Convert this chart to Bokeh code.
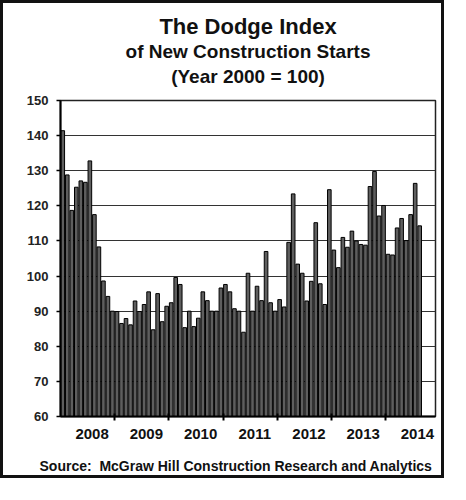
from bokeh.plotting import figure
from bokeh.models import Range1d, FixedTicker, Title, ColumnDataSource
from bokeh.embed import file_html
from bokeh.resources import INLINE

years = ["2008", "2009", "2010", "2011", "2012", "2013", "2014"]
idx_2008 = [141.4, 128.8, 118.7, 125.3, 127.1, 126.7, 132.8, 117.5, 108.3, 98.6, 94.2, 90.0]
idx_2009 = [89.9, 86.5, 87.9, 86.1, 92.9, 89.9, 91.9, 95.5, 84.7, 95.0, 87.0, 91.4]
idx_2010 = [92.4, 99.6, 97.6, 85.3, 90.0, 85.6, 88.0, 95.5, 93.0, 90.0, 90.0, 96.6]
idx_2011 = [97.6, 95.5, 90.7, 90.0, 84.0, 100.8, 90.0, 97.1, 93.0, 107.0, 92.4, 90.0]
idx_2012 = [93.3, 91.2, 109.6, 123.4, 103.4, 100.8, 92.9, 98.5, 115.2, 97.8, 91.9, 124.6]
idx_2013 = [107.4, 102.4, 111.0, 108.2, 112.8, 110.0, 109.0, 108.8, 125.5, 129.8, 117.1, 120.1]
idx_2014 = [106.2, 106.0, 113.7, 116.4, 110.1, 117.5, 126.4, 114.3]
y_ticks = [60, 70, 80, 90, 100, 110, 120, 130, 140, 150]

values = idx_2008 + idx_2009 + idx_2010 + idx_2011 + idx_2012 + idx_2013 + idx_2014
months = [i + 0.5 for i in range(len(values))]
src = ColumnDataSource(dict(x=months, top=values))

W, H = 444, 478
p = figure(width=W, height=H, output_backend="svg", toolbar_location=None,
           x_range=Range1d(0, 83), y_range=Range1d(60, 150),
           min_border_left=57, min_border_right=12, min_border_top=97, min_border_bottom=65)
p.styles = {"border": "3px solid #111111"}
p.background_fill_color = "white"
p.border_fill_color = "white"
p.outline_line_color = "#222222"
p.outline_line_width = 1.5

p.vbar(x="x", top="top", bottom=60, width=0.8, source=src,
       fill_color="#5e5e5e", line_color="#000000", line_width=1)

label_pos = [7 + 12 * k for k in range(len(years))]
bounds = [12 * k for k in range(1, 7)]
p.xaxis.ticker = FixedTicker(ticks=label_pos, minor_ticks=bounds)
p.xaxis.major_label_overrides = {pos: yr for pos, yr in zip(label_pos, years)}
p.xaxis.major_tick_in = 0
p.xaxis.major_tick_out = 0
p.xaxis.minor_tick_in = 3
p.xaxis.minor_tick_out = 4
p.xaxis.minor_tick_line_color = "black"
p.xaxis.minor_tick_line_width = 2
p.xaxis.axis_line_color = "black"
p.xaxis.axis_line_width = 2
p.xaxis.major_label_standoff = 8
p.xaxis.major_label_text_font = "Liberation Sans"
p.xaxis.major_label_text_font_style = "bold"
p.xaxis.major_label_text_font_size = "15px"
p.xaxis.major_label_text_color = "#111111"

p.yaxis.ticker = FixedTicker(ticks=y_ticks)
p.yaxis.major_tick_in = 0
p.yaxis.major_tick_out = 4
p.yaxis.minor_tick_line_color = None
p.yaxis.major_tick_line_color = "black"
p.yaxis.major_tick_line_width = 1.5
p.yaxis.axis_line_color = "black"
p.yaxis.axis_line_width = 2
p.yaxis.major_label_standoff = 8
p.yaxis.major_label_text_font = "Liberation Sans"
p.yaxis.major_label_text_font_style = "bold"
p.yaxis.major_label_text_font_size = "13px"
p.yaxis.major_label_text_color = "#222222"

p.xgrid.grid_line_color = None
p.ygrid.ticker = FixedTicker(ticks=y_ticks)
p.ygrid.grid_line_color = "#333333"
p.ygrid.grid_line_width = 1

def make_title(txt, size, standoff=0, lh=1.2, align="center", offset=0):
    return Title(text=txt, align=align, offset=offset, text_font="Liberation Sans",
                 text_font_style="bold", text_font_size=size, text_color="#111111",
                 standoff=standoff, text_line_height=lh)

# titles stacked above the frame (first added sits closest to the frame)
p.add_layout(make_title(" ", "8px", 0, 1.1), "above")  # spacer
p.add_layout(make_title("(Year 2000 = 100)", "19px", 5, 1.1), "above")
p.add_layout(make_title("of New Construction Starts", "19px", 0, 1.1), "above")
p.add_layout(make_title("The Dodge Index", "22px", 0, 1.1), "above")

p.add_layout(make_title(" ", "11px", 0, 1.2), "below")  # spacer
p.add_layout(make_title("Source:\u00a0\u00a0McGraw Hill Construction Research and Analytics",
                        "14px", 0, 1.2, align="left", offset=-21), "below")

open("out.html", "w").write(file_html(p, INLINE))
